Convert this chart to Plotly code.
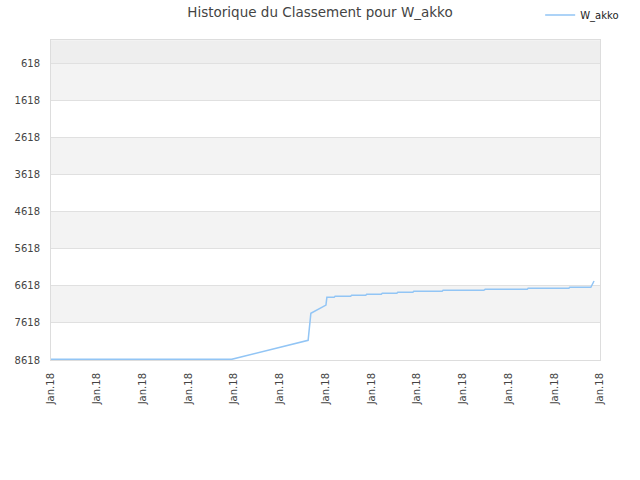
import plotly.graph_objects as go

# positions in tick units (0..12), all ticks read "Jan.18"
x_pos = [0, 3.95, 5.62, 5.68, 6.01, 6.03,
         6.19, 6.21, 6.55, 6.57, 6.88, 6.9, 7.22, 7.24, 7.56, 7.58, 7.91, 7.93,
         8.55, 8.57, 9.46, 9.49, 10.41, 10.43, 11.32, 11.34, 11.8, 11.87]
rank = [8600, 8600, 8087, 7360, 7137, 6929,
        6929, 6902, 6902, 6875, 6875, 6848, 6848, 6821, 6821, 6794, 6794, 6767,
        6767, 6740, 6740, 6713, 6713, 6686, 6686, 6659, 6659, 6490]

x_ticks = list(range(13))
x_labels = ["Jan.18"] * 13
y_ticks = [618, 1618, 2618, 3618, 4618, 5618, 6618, 7618, 8618]

fig = go.Figure()
fig.add_trace(go.Scatter(x=x_pos, y=rank, mode="lines", name="W_akko",
                         line=dict(color="#92c5f5", width=1.5)))

# alternating background bands
fig.add_shape(type="rect", xref="paper", yref="y", x0=0, x1=1, y0=0, y1=y_ticks[0],
              fillcolor="#eeeeee", line_width=0, layer="below")
for i in range(0, len(y_ticks) - 1, 2):
    fig.add_shape(type="rect", xref="paper", yref="y", x0=0, x1=1,
                  y0=y_ticks[i], y1=y_ticks[i + 1],
                  fillcolor="#f3f3f3", line_width=0, layer="below")

fig.update_layout(
    width=640, height=480,
    title=dict(text="Historique du Classement pour W_akko", x=0.5, xanchor="center",
               y=0.975, yanchor="middle", font=dict(size=13.5, color="#444444")),
    font=dict(family="DejaVu Sans", size=10, color="#444444"),
    paper_bgcolor="white", plot_bgcolor="white",
    margin=dict(l=51, r=40, t=40, b=120, autoexpand=False),
    showlegend=True,
    legend=dict(x=0.891, y=1.078, xanchor="left", yanchor="middle",
                font=dict(size=10, color="#222222"), bgcolor="rgba(0,0,0,0)"),
    xaxis=dict(range=[0, 12], tickvals=x_ticks, ticktext=x_labels, tickangle=-90,
               showgrid=False, zeroline=False, showline=True, linecolor="#dddddd",
               mirror=True, ticks="", ticklabelstandoff=8),
    yaxis=dict(range=[8618, -5], tickvals=y_ticks, showgrid=True, gridcolor="#e0e0e0",
               zeroline=False, showline=True, linecolor="#dddddd", mirror=True,
               ticks="", ticklabelstandoff=8),
)

# page body has a default 8px margin; drop it so the figure sits at the corner
fig.write_html("out.html", config={"displayModeBar": False},
               post_script="document.body.style.margin='0';")
